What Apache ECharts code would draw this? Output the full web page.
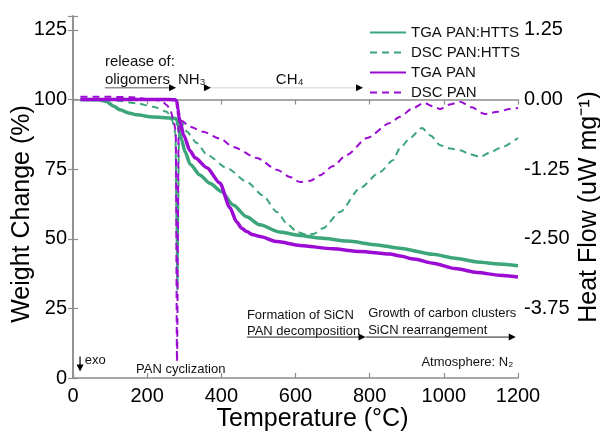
<!DOCTYPE html>
<html>
<head>
<meta charset="utf-8">
<script src="https://cdn.jsdelivr.net/npm/echarts@6/dist/echarts.min.js"></script>
<style>
  html, body { margin: 0; padding: 0; background: #fff; }
  #chart { width: 600px; height: 431px; }
</style>
</head>
<body>
<div id="chart"></div>
<script>
// ---- data ----------------------------------------------------------------
const seriesNames = ['TGA PAN:HTTS', 'DSC PAN:HTTS', 'TGA PAN', 'DSC PAN'];

// TGA PAN:HTTS, weight change (%)
const tgaHttsTemp   = [20, 70, 90, 110, 127, 150, 172, 216, 262, 278, 281, 284, 288, 293, 302, 316, 342, 369, 401, 432, 468, 504, 558, 612, 666, 740, 820, 880, 971, 1030, 1090, 1150, 1200];
const tgaHttsWeight = [100, 99.9, 99.3, 97.6, 96.3, 95.2, 94.5, 93.7, 93.4, 93.1, 92.3, 90.5, 88, 85.5, 81.3, 76.8, 72.9, 69.9, 66.9, 62.1, 57.9, 55, 52.4, 51.2, 50.3, 49.2, 47.8, 46.6, 44.4, 43, 41.7, 40.9, 40.3];

// DSC PAN:HTTS, heat flow (uW mg-1)
const dscHttsTemp = [20, 80, 120, 172, 217, 253, 268, 276, 281.5, 286, 294, 307, 334, 361, 415, 469, 512, 550, 580, 605, 631, 650, 674, 720, 774, 828, 863, 882, 909, 941, 965, 990, 1017, 1044, 1070, 1098, 1125, 1152, 1200];
const dscHttsFlow = [0, 0, -0.02, -0.07, -0.13, -0.22, -0.38, -0.6, -3.42, -0.6, -0.42, -0.58, -0.78, -0.99, -1.23, -1.48, -1.72, -2.02, -2.25, -2.38, -2.43, -2.41, -2.31, -2.02, -1.59, -1.3, -1.09, -0.87, -0.69, -0.51, -0.65, -0.82, -0.88, -0.91, -0.98, -1.03, -0.95, -0.87, -0.69];

// TGA PAN, weight change (%)
const tgaPanTemp   = [20, 100, 200, 260, 276, 280, 283, 286, 290, 298, 316, 330, 361, 396, 423, 441, 455, 468, 486, 504, 550, 612, 700, 774, 855, 882, 920, 971, 1030, 1090, 1150, 1200];
const tgaPanWeight = [100, 100, 100, 100, 99.9, 99.3, 96.5, 93.5, 91.5, 87.3, 81.5, 79, 75.5, 70, 61.2, 56.1, 53.8, 52.6, 51.4, 50.8, 49, 47.6, 46.4, 45.4, 44.5, 43.8, 42.7, 41.2, 39.3, 37.9, 36.9, 36.3];

// DSC PAN, heat flow (uW mg-1)
const dscPanTemp = [20, 60, 100, 160, 216, 240, 253, 262, 270, 277, 280.5, 285, 292, 316, 351, 396, 432, 496, 550, 585, 612, 640, 666, 700, 739, 793, 855, 882, 915, 947, 970, 990, 1015, 1044, 1075, 1110, 1145, 1178, 1200];
const dscPanFlow = [0.05, 0.05, 0.05, 0.04, 0.0, -0.03, -0.1, -0.18, -0.34, -0.55, -4.71, -0.45, -0.38, -0.49, -0.58, -0.7, -0.85, -1.05, -1.26, -1.39, -1.48, -1.46, -1.36, -1.2, -0.99, -0.69, -0.42, -0.31, -0.16, -0.06, -0.12, -0.17, -0.09, -0.04, -0.14, -0.26, -0.22, -0.17, -0.15];

// axis ticks
const tempTicks   = [0, 200, 400, 600, 800, 1000, 1200];
const weightTicks = [0, 25, 50, 75, 100, 125];
const flowTicks   = [-3.75, -2.5, -1.25, 0, 1.25];

// ---- styling -------------------------------------------------------------
const FONT = '"Liberation Sans", Arial, Helvetica, sans-serif';
const GREEN = '#3ca67a';
const PURPLE = '#9b0bd3';
const FRAME = '#8c8c8c';

const zip = (a, b) => a.map((v, i) => [v, b[i]]);

const chart = echarts.init(document.getElementById('chart'), null, { renderer: 'canvas' });

const frameLine = { show: true, lineStyle: { color: FRAME, width: 1.5 } };
const inTick = { show: true, inside: true, length: 5, lineStyle: { color: FRAME, width: 1.2 } };
const titleStyle = { fontFamily: FONT, fontSize: 25, color: '#000' };

function lineSeries(name, data, color, width, dashed, yIndex) {
  return {
    name, type: 'line', data, yAxisIndex: yIndex,
    showSymbol: false, symbol: 'none',
    smooth: 0.25, smoothMonotone: 'x',
    lineStyle: { color, width, type: dashed ? [7, 5] : 'solid', cap: 'butt' },
    itemStyle: { color },
    emphasis: { disabled: true },
    animation: false,
    z: 2
  };
}

const option = {
  animation: false,
  backgroundColor: '#fff',
  grid: { left: 73, right: 82, top: 16, bottom: 53, containLabel: false, outerBoundsMode: 'none' },
  legend: {
    orient: 'vertical', left: 364, top: 20,
    itemWidth: 36, itemHeight: 14, itemGap: 5,
    itemStyle: { opacity: 0, borderWidth: 0 },
    textStyle: { fontFamily: FONT, fontSize: 15, color: '#111', lineHeight: 14, padding: [0, 0, 0, 0] },
    data: seriesNames, selectedMode: false
  },
  xAxis: [
    {
      type: 'value', min: 0, max: 1200, interval: 200, position: 'bottom',
      name: 'Temperature (°C)', nameLocation: 'middle', nameGap: 29, nameMoveOverlap: false,
      nameTextStyle: Object.assign({ padding: [0, 0, 0, 34] }, titleStyle),
      axisLine: frameLine, axisTick: inTick, splitLine: { show: false },
      axisLabel: { fontFamily: FONT, fontSize: 20, color: '#000', margin: 8,
        formatter: v => tempTicks.includes(v) ? String(v) : '' }
    },
    {
      type: 'value', min: 0, max: 1200, interval: 200, position: 'top',
      axisLine: frameLine, axisTick: inTick, splitLine: { show: false },
      axisLabel: { show: false }
    }
  ],
  yAxis: [
    {
      type: 'value', min: 0, max: 130, interval: 25, position: 'left',
      name: 'Weight Change (%)', nameLocation: 'middle', nameGap: 38, nameRotate: 90, nameMoveOverlap: false,
      nameTextStyle: Object.assign({ padding: [0, 34, 0, 0] }, titleStyle),
      axisLine: frameLine, axisTick: inTick, splitLine: { show: false },
      axisLabel: { fontFamily: FONT, fontSize: 20, color: '#000', margin: 6,
        formatter: v => weightTicks.includes(v) ? String(v) : '' }
    },
    {
      type: 'value', min: -5, max: 1.5, interval: 1.25, position: 'right',
      name: 'Heat Flow (uW mg⁻¹)', nameLocation: 'middle', nameGap: 59, nameRotate: 90, nameMoveOverlap: false,
      nameTextStyle: Object.assign({ padding: [0, 20, 0, 0] }, titleStyle),
      axisLine: frameLine, axisTick: inTick, splitLine: { show: false },
      axisLabel: { fontFamily: FONT, fontSize: 20, color: '#000', margin: 6,
        formatter: v => flowTicks.some(t => Math.abs(t - v) < 1e-6) ? v.toFixed(2) : '' }
    }
  ],
  series: [
    lineSeries(seriesNames[0], zip(tgaHttsTemp, tgaHttsWeight), GREEN, 3.5, false, 0),
    lineSeries(seriesNames[1], zip(dscHttsTemp, dscHttsFlow), GREEN, 2, true, 1),
    lineSeries(seriesNames[2], zip(tgaPanTemp, tgaPanWeight), PURPLE, 3.5, false, 0),
    lineSeries(seriesNames[3], zip(dscPanTemp, dscPanFlow), PURPLE, 2, true, 1)
  ]
};

chart.setOption(option);

// ---- annotations placed in data coordinates (temperature, weight %) ------
const toPx = (t, w) => chart.convertToPixel({ xAxisIndex: 0, yAxisIndex: 0 }, [t, w]);

function label(text, t, w, size, align) {
  const p = toPx(t, w);
  return {
    type: 'text', x: p[0], y: p[1], z: 10,
    style: { text, fill: '#111', font: size + 'px ' + FONT,
      textAlign: align || 'left', textVerticalAlign: 'middle', verticalAlign: 'middle' }
  };
}
function arrow(t1, t2, w, color, head) {
  const a = toPx(t1, w), b = toPx(t2, w);
  const els = [{
    type: 'line', z: 10,
    shape: { x1: a[0], y1: a[1], x2: b[0] - (head ? 4 : 0), y2: b[1] },
    style: { stroke: color, lineWidth: 1 }
  }];
  if (head) els.push(arrowHead(t2, w));
  return els;
}
function arrowHead(t, w) {
  const b = toPx(t, w);
  return {
    type: 'polygon', z: 11,
    shape: { points: [[b[0], b[1]], [b[0] - 7, b[1] - 3.5], [b[0] - 7, b[1] + 3.5]] },
    style: { fill: '#000' }
  };
}

const exoTop = toPx(19, 7.7), exoBot = toPx(19, 2.3);

const graphics = [
  label('release of:', 86, 113.5, 15),
  label('oligomers', 86, 107.0, 15),
  label('NH₃', 283, 107.0, 15),
  label('CH₄', 547, 107.0, 15),
  ...arrow(86, 278, 104.2, '#555', true),
  arrowHead(372, 104.2),
  ...arrow(372, 782, 104.2, '#d4d4d4', true),

  label('Formation of SiCN', 469, 22.6, 13),
  label('PAN decomposition', 469, 16.9, 13),
  label('Growth of carbon clusters', 796, 23.3, 13),
  label('SiCN rearrangement', 796, 17.2, 13),
  ...arrow(469, 789, 14.7, '#222', true),
  ...arrow(789, 1194, 14.7, '#222', true),

  label('Atmosphere: N₂', 1187, 5.7, 13, 'right'),
  label('PAN cyclization', 170, 3.2, 13),
  label('exo', 32, 6.2, 13),
  {
    type: 'line', z: 10,
    shape: { x1: exoTop[0], y1: exoTop[1], x2: exoBot[0], y2: exoBot[1] - 5 },
    style: { stroke: '#000', lineWidth: 1.2 }
  },
  {
    type: 'polygon', z: 11,
    shape: { points: [[exoBot[0], exoBot[1]], [exoBot[0] - 3.5, exoBot[1] - 7], [exoBot[0] + 3.5, exoBot[1] - 7]] },
    style: { fill: '#000' }
  }
];

chart.setOption({ graphic: graphics });
</script>
</body>
</html>
